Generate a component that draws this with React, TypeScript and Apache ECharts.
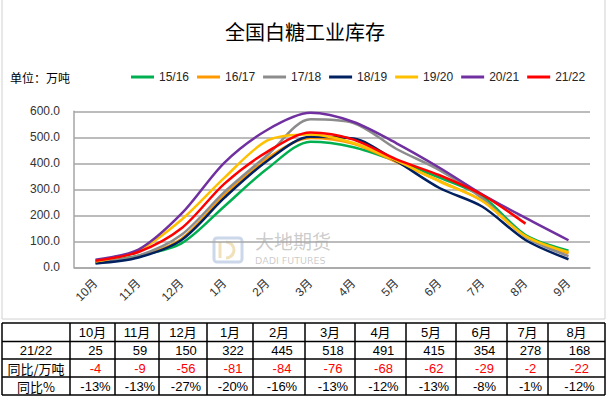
import React, { useEffect, useRef } from 'react';
import * as echarts from 'echarts';

const months = ['10月', '11月', '12月', '1月', '2月', '3月', '4月', '5月', '6月', '7月', '8月', '9月'];
const seasons = ['15/16', '16/17', '17/18', '18/19', '19/20', '20/21', '21/22'];
const colors = ['#00B050', '#FF9900', '#8C8C8C', '#002060', '#FFC000', '#7030A0', '#FF0000'];

const v1516 = [18, 45, 92, 235, 380, 483, 462, 408, 345, 272, 124, 64];
const v1617 = [20, 42, 110, 278, 420, 497, 475, 405, 332, 255, 118, 54];
const v1718 = [20, 45, 125, 290, 432, 569, 555, 455, 374, 265, 118, 43];
const v1819 = [15, 38, 105, 268, 410, 502, 495, 408, 305, 233, 105, 31];
const v1920 = [22, 65, 183, 345, 488, 511, 478, 410, 330, 255, 120, 58];
const v2021 = [29, 68, 206, 403, 529, 594, 559, 477, 383, 280, 190, 104];
const v2122 = [25, 59, 150, 322, 445, 518, 491, 415, 354, 278, 168, null];

const yTicks = [0, 100, 200, 300, 400, 500, 600];

const tableMonths = ['10月', '11月', '12月', '1月', '2月', '3月', '4月', '5月', '6月', '7月', '8月'];
const tableStock = [25, 59, 150, 322, 445, 518, 491, 415, 354, 278, 168];
const tableYoyAbs = [-4, -9, -56, -81, -84, -76, -68, -62, -29, -2, -22];
const tableYoyPct = ['-13%', '-13%', '-27%', '-20%', '-16%', '-13%', '-12%', '-13%', '-8%', '-1%', '-12%'];
const rowLabels = ['', '21/22', '同比/万吨', '同比%'];

const allSeries = [v1516, v1617, v1718, v1819, v1920, v2021, v2122];

// layout constants
const colX = [2, 70, 115, 159, 207, 253, 305, 355, 406, 456, 507, 548, 605];
const rowY = [323, 341.5, 359, 377, 395];
const FONT = "'Liberation Sans', 'Noto Sans CJK SC', sans-serif";
const CJK = "'Noto Sans CJK SC', sans-serif";

function buildTable(): any[] {
  const els: any[] = [];
  rowY.forEach((y) => {
    els.push({ type: 'line', shape: { x1: colX[0], y1: y, x2: colX[colX.length - 1], y2: y }, style: { stroke: '#000', lineWidth: 1.5 } });
  });
  colX.forEach((x) => {
    els.push({ type: 'line', shape: { x1: x, y1: rowY[0], x2: x, y2: rowY[rowY.length - 1] }, style: { stroke: '#000', lineWidth: 1.5 } });
  });
  const rowMid = (r: number) => (rowY[r] + rowY[r + 1]) / 2;
  rowLabels.forEach((lab, r) => {
    if (!lab) return;
    els.push({ type: 'text', x: (colX[0] + colX[1]) / 2, y: rowMid(r), style: { text: lab, fill: '#000', fontSize: 13, lineHeight: 14, fontFamily: r === 1 ? FONT : CJK, align: 'center', verticalAlign: 'middle' } });
  });
  tableMonths.forEach((m, i) => {
    const cx = (colX[i + 1] + colX[i + 2]) / 2;
    const base = { fontSize: 13, lineHeight: 14, fontFamily: FONT, align: 'center', verticalAlign: 'middle' };
    els.push({ type: 'text', x: cx, y: rowMid(0), style: { ...base, text: m, fill: '#000' } });
    els.push({ type: 'text', x: cx + 3, y: rowMid(1), style: { ...base, text: String(tableStock[i]), fill: '#000' } });
    els.push({ type: 'text', x: cx + 3, y: rowMid(2), style: { ...base, text: String(tableYoyAbs[i]), fill: '#FF0000' } });
    els.push({ type: 'text', x: cx + 3, y: rowMid(3), style: { ...base, text: tableYoyPct[i], fill: '#000' } });
  });
  return els;
}

function buildOption(): any {
  return {
    animation: false,
    backgroundColor: '#fff',
    textStyle: { fontFamily: FONT },
    color: colors,
    grid: { left: 74, right: 20, top: 111.3, bottom: 131.7 },
    legend: {
      data: seasons,
      left: 131,
      top: 71,
      padding: 0,
      icon: 'rect',
      itemWidth: 23,
      itemHeight: 3,
      itemGap: 8,
      textStyle: { fontSize: 12, color: '#262626', fontFamily: FONT },
    },
    xAxis: {
      type: 'category',
      data: months,
      boundaryGap: true,
      axisLine: { lineStyle: { color: '#A6A6A6', width: 1.5 } },
      axisTick: { show: false },
      axisLabel: { rotate: 45, fontSize: 12, color: '#333', margin: 14, fontFamily: FONT },
    },
    yAxis: {
      type: 'value',
      min: yTicks[0],
      max: yTicks[yTicks.length - 1],
      interval: 100,
      axisLine: { show: true, lineStyle: { color: '#A6A6A6', width: 1.5 } },
      axisTick: { show: false },
      axisLabel: { fontSize: 12, color: '#333', margin: 14, formatter: (v: number) => v.toFixed(1) },
      splitLine: { lineStyle: { color: '#A6A6A6', width: 1.5 } },
    },
    series: seasons.map((name, i) => ({
      name,
      type: 'line',
      data: allSeries[i],
      symbol: 'none',
      smooth: 0.3,
      connectNulls: false,
      lineStyle: { width: 2.5, color: colors[i] },
      itemStyle: { color: colors[i] },
      z: 3 + i,
    })),
    graphic: [
      { type: 'rect', z: -10, shape: { x: 2, y: -2, width: 603, height: 321 }, style: { fill: '#fff', stroke: '#D0D0D0', lineWidth: 1 } },
      { type: 'text', x: 305, y: 31, style: { text: '全国白糖工业库存', fill: '#000', fontSize: 20, fontFamily: CJK, align: 'center', verticalAlign: 'middle' } },
      { type: 'text', x: 10, y: 77, style: { text: '单位：万吨', fill: '#000', fontSize: 12, fontFamily: CJK, align: 'left', verticalAlign: 'middle' } },
      // watermark
      { type: 'rect', z: 0, shape: { x: 214, y: 238, width: 28, height: 24, r: 3 }, style: { fill: 'none', stroke: 'rgba(170,190,220,0.6)', lineWidth: 3 } },
      { type: 'arc', z: 0, shape: { cx: 226, cy: 250, r: 8, startAngle: -Math.PI / 2, endAngle: Math.PI / 2 }, style: { fill: 'none', stroke: 'rgba(230,205,140,0.6)', lineWidth: 3 } },
      { type: 'line', z: 0, shape: { x1: 220, y1: 242, x2: 220, y2: 258 }, style: { stroke: 'rgba(230,205,140,0.6)', lineWidth: 3 } },
      { type: 'text', z: 0, x: 255, y: 240, style: { text: '大地期货', fill: 'rgba(140,140,140,0.45)', fontSize: 19, lineHeight: 19, fontFamily: CJK, align: 'left', verticalAlign: 'middle' } },
      { type: 'text', z: 0, x: 255, y: 260.5, style: { text: 'DADI FUTURES', fill: 'rgba(140,140,140,0.45)', fontSize: 9.5, lineHeight: 9.5, fontFamily: "'DejaVu Sans', sans-serif", align: 'left', verticalAlign: 'middle' } },
      ...buildTable(),
    ],
  };
}

export default function App() {
  const ref = useRef<HTMLDivElement>(null);
  useEffect(() => {
    const chart = echarts.init(ref.current as HTMLDivElement, null, { renderer: 'svg' });
    chart.setOption(buildOption());
    return () => chart.dispose();
  }, []);
  return <div ref={ref} style={{ position: 'absolute', left: 0, top: 0, width: 610, height: 399 }} />;
}
